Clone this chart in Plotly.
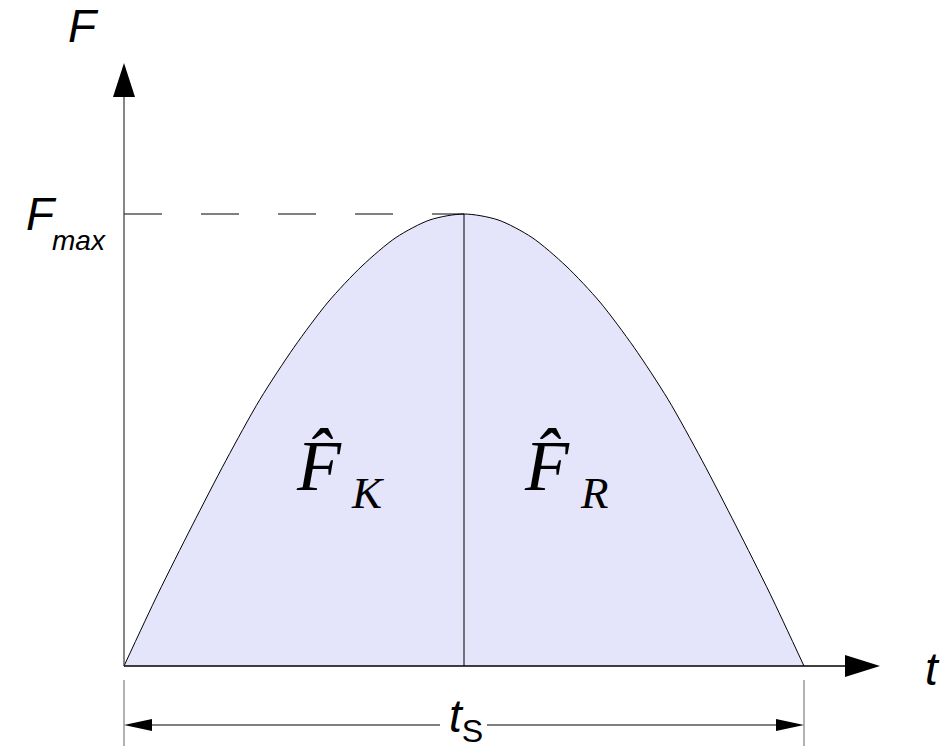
import plotly.graph_objects as go

# ---- data (t in units of half the duration, F relative to F_max) ----
t_vals = [0.0, 0.1, 0.2, 0.3, 0.4, 0.5, 0.6, 0.7, 0.8, 0.9, 1.0,
          1.1, 1.2, 1.3, 1.4, 1.5, 1.6, 1.7, 1.8, 1.9, 2.0]
F_vals = [0.0, 0.16, 0.31, 0.455, 0.59, 0.705, 0.805, 0.885, 0.948, 0.987, 1.0,
          0.987, 0.948, 0.885, 0.805, 0.705, 0.59, 0.455, 0.31, 0.16, 0.0]
t_peak = 1.0
F_max = 1.0
t_s = 2.0

W, H = 943, 753
# pixel placement of the origin and unit lengths
X0, SX = 124, 340
Y0, SY = 666, 452


def tx(px):
    return (px - X0) / SX


def fy(py):
    return (Y0 - py) / SY


fig = go.Figure()
fig.add_trace(go.Scatter(
    x=t_vals, y=F_vals, mode="lines", line=dict(color="black", width=1, shape="spline", smoothing=0.8),
    fill="tozeroy", fillcolor="#E4E4FA", hoverinfo="skip", showlegend=False))
# divider at the peak
fig.add_trace(go.Scatter(x=[t_peak, t_peak], y=[0, F_max], mode="lines",
                         line=dict(color="black", width=1), hoverinfo="skip", showlegend=False))
# dashed F_max line
fig.add_trace(go.Scatter(x=[0, t_peak], y=[F_max, F_max], mode="lines",
                         line=dict(color="black", width=1, dash="38px,39px"),
                         hoverinfo="skip", showlegend=False))

shapes = []
# vertical axis
shapes.append(dict(type="line", x0=0, x1=0, y0=0, y1=fy(97), line=dict(color="#444", width=1.3)))
shapes.append(dict(type="path", path=f"M {tx(113)},{fy(97)} L {tx(124)},{fy(63)} L {tx(135)},{fy(97)} Z",
                   fillcolor="black", line=dict(width=0)))
# horizontal axis
shapes.append(dict(type="line", x0=0, x1=tx(848), y0=0, y1=0, line=dict(color="black", width=1.5)))
shapes.append(dict(type="path", path=f"M {tx(845)},{fy(655)} L {tx(880)},{fy(666)} L {tx(845)},{fy(677)} Z",
                   fillcolor="black", line=dict(width=0)))
# dimension ticks
for xx in (0, t_s):
    shapes.append(dict(type="line", x0=xx, x1=xx, y0=fy(680), y1=fy(746), line=dict(color="#666", width=1)))
# dimension lines
shapes.append(dict(type="line", x0=tx(150), x1=tx(440), y0=fy(725), y1=fy(725), line=dict(color="#555", width=1.5)))
shapes.append(dict(type="line", x0=tx(487), x1=tx(778), y0=fy(725), y1=fy(725), line=dict(color="#555", width=1.5)))
shapes.append(dict(type="path", path=f"M {tx(124)},{fy(725)} L {tx(152)},{fy(719)} L {tx(152)},{fy(731)} Z",
                   fillcolor="black", line=dict(width=0)))
shapes.append(dict(type="path", path=f"M {tx(804)},{fy(725)} L {tx(776)},{fy(719)} L {tx(776)},{fy(731)} Z",
                   fillcolor="black", line=dict(width=0)))

SANS = "Liberation Sans"
SERIF = "Liberation Serif"


def label(text, cx, baseline, size, family, k=None):
    if k is None:
        k = 0.3465 if family == SANS else 0.3375
    cy = baseline - k * size
    return dict(text=text, x=cx / W, y=1 - cy / H,
                xref="paper", yref="paper", xanchor="center", yanchor="middle",
                showarrow=False, font=dict(family=family, size=size, color="black"))


annotations = [
    label("<i>F</i>", 83, 42, 46, SANS),
    label("<i>F</i>", 41, 230, 46, SANS),
    label("<i>max</i>", 79, 250, 28, SANS),
    label("<i>t</i>", 932, 685, 46, SANS),
    label("<i>t</i><sub>S</sub>", 466, 735, 46, SANS),
    label("<i>F\u0302</i>", 319, 490, 72, SERIF),
    label("<i>K</i>", 367, 508, 45, SERIF),
    label("<i>F\u0302</i>", 547, 490, 72, SERIF),
    label("<i>R</i>", 594, 508, 45, SERIF),
]

fig.update_layout(
    width=W, height=H, margin=dict(l=0, r=0, t=0, b=0),
    paper_bgcolor="white", plot_bgcolor="white",
    xaxis=dict(visible=False, range=[tx(0), tx(W)], fixedrange=True),
    yaxis=dict(visible=False, range=[fy(H), fy(0)], fixedrange=True),
    shapes=shapes, annotations=annotations, showlegend=False,
)
fig.write_html("out.html", config={"displayModeBar": False},
               post_script="document.body.style.margin='0';document.body.style.overflow='hidden';")
